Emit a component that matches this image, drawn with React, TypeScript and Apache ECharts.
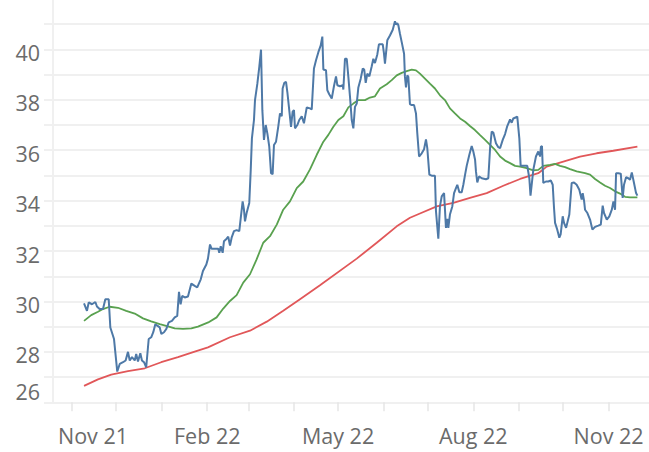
import React, { useEffect, useRef } from "react";
import * as echarts from "echarts";

// Dates are stored as day offsets from BASE_DATE (Nov 1, 2021)
const BASE_DATE = "2021-11-01";

const priceDays = [
  8.2, 10.2, 11.4, 13.6, 15.9, 17.0, 18.8, 21.1, 22.7, 25.0,
  26.1, 28.6, 30.8, 32.5, 34.7, 36.5, 38.1, 39.3, 40.8, 42.7,
  43.7, 44.9, 46.5, 47.6, 49.0, 50.5, 52.2, 53.9, 55.3, 56.7,
  58.0, 59.7, 60.8, 62.6, 64.2, 65.8, 68.0, 69.9, 71.6, 72.8,
  73.9, 75.0, 76.7, 78.9, 81.2, 83.5, 85.2, 87.6, 89.1, 91.4,
  92.5, 93.9, 95.0, 97.3, 99.5, 100.2, 101.2, 102.5, 103.4, 105.2,
  106.3, 107.5, 108.6, 110.2, 112.0, 113.8, 114.8, 116.1, 117.0, 117.7,
  118.8, 120.6, 121.6, 122.4, 123.8, 124.5, 126.1, 127.4, 128.6, 129.5,
  130.6, 131.8, 132.9, 134.2, 135.4, 136.5, 137.4, 138.8, 140.3, 141.5,
  142.7, 143.3, 144.4, 145.6, 146.5, 147.8, 149.0, 150.1, 151.0, 151.7,
  153.3, 154.6, 156.3, 157.8, 159.7, 161.9, 163.1, 164.6, 166.0, 167.6,
  169.2, 170.3, 171.0, 172.8, 173.7, 175.0, 176.7, 178.2, 179.6, 180.5,
  182.3, 184.2, 184.6, 185.7, 186.9, 188.0, 189.1, 190.3, 191.4, 192.5,
  193.7, 194.8, 196.4, 197.8, 198.8, 199.8, 200.9, 202.3, 203.9, 205.0,
  206.1, 207.7, 208.8, 211.4, 212.2, 212.9, 214.5, 216.3, 218.2, 219.7,
  220.4, 221.3, 222.0, 223.1, 224.3, 225.9, 226.5, 227.2, 228.1, 228.8,
  229.9, 231.1, 232.7, 234.0, 234.9, 236.1, 237.9, 239.5, 240.8, 241.7,
  243.1, 244.7, 246.9, 247.6, 249.2, 250.3, 251.5, 253.1, 254.4, 255.3,
  256.0, 257.1, 258.7, 259.9, 261.2, 262.1, 263.5, 265.1, 266.2, 267.4,
  268.5, 270.3, 271.9, 273.0, 274.2, 274.8, 275.7, 276.9, 278.7, 281.6,
  283.2, 284.4, 285.5, 286.6, 288.4, 290.0, 291.2, 293.0, 294.6, 296.1,
  298.0, 299.1, 300.2, 302.9, 304.3, 305.2, 307.5, 309.7, 311.1, 311.9,
  313.8, 315.6, 317.2, 318.4, 319.0, 319.7, 320.6, 322.4, 324.0, 325.7,
  327.0, 327.9, 328.6, 330.1, 331.5, 332.4, 333.8, 334.7, 336.1, 338.3,
  339.9, 341.5, 343.3, 345.1, 346.7, 347.4, 348.3, 349.0, 350.6, 352.4,
  354.0, 355.8, 358.0, 359.7, 361.0, 361.9, 363.8, 365.5, 367.2, 368.3,
  369.4, 370.1, 371.6, 373.3, 374.6, 375.5, 376.9, 378.4, 379.6, 380.8,
  382.3, 383.7, 384.6,
];

const priceValues = [
  29.92, 29.63, 29.96, 29.89, 29.98, 29.80, 29.70, 29.70, 30.09, 30.09,
  28.97, 28.51, 27.22, 27.52, 27.59, 27.66, 28.00, 27.66, 27.79, 27.66,
  27.92, 27.62, 27.95, 27.66, 27.59, 27.39, 28.51, 28.58, 28.78, 29.10,
  29.04, 28.97, 28.71, 28.78, 28.91, 29.17, 29.23, 29.37, 29.43, 30.38,
  29.89, 30.22, 30.16, 30.20, 30.71, 30.62, 30.56, 30.88, 31.21, 31.47,
  31.70, 32.26, 32.09, 32.09, 32.09, 31.93, 32.19, 31.93, 32.39, 32.49,
  32.57, 32.22, 32.53, 32.79, 32.83, 32.79, 33.31, 33.97, 33.64, 33.18,
  33.51, 33.91, 35.22, 36.47, 37.20, 37.99, 38.64, 39.30, 39.99, 37.59,
  36.41, 37.00, 36.67, 36.14, 35.09, 35.05, 36.21, 36.34, 36.93, 37.46,
  37.35, 38.45, 38.67, 38.71, 38.31, 37.59, 36.93, 37.53, 37.59, 36.87,
  37.00, 37.20, 37.35, 37.07, 37.70, 37.66, 37.62, 39.24, 39.57, 39.89,
  40.16, 40.51, 39.20, 39.17, 38.38, 38.22, 38.05, 38.54, 38.93, 38.58,
  38.54, 38.58, 38.41, 39.63, 39.63, 38.91, 38.14, 37.20, 36.87, 37.72,
  37.85, 38.49, 38.84, 39.24, 39.20, 38.67, 39.04, 38.93, 39.33, 39.63,
  39.46, 39.80, 40.20, 40.20, 39.85, 39.44, 40.36, 40.55, 40.78, 41.12,
  40.99, 41.04, 40.96, 40.62, 40.29, 39.83, 38.91, 38.49, 38.97, 38.91,
  37.83, 37.79, 37.79, 37.46, 36.67, 35.75, 35.88, 36.04, 36.43, 36.08,
  35.03, 34.99, 34.99, 33.58, 32.49, 33.77, 34.17, 34.30, 32.92, 33.28,
  32.92, 33.45, 33.77, 34.30, 34.50, 34.63, 34.33, 34.33, 34.63, 35.03,
  35.38, 35.82, 36.17, 35.95, 35.62, 35.16, 34.72, 34.96, 34.89, 34.85,
  34.89, 36.08, 36.74, 36.70, 36.28, 36.12, 36.08, 36.41, 36.64, 36.96,
  37.22, 37.09, 37.26, 37.33, 36.47, 35.38, 35.38, 35.38, 34.89, 34.20,
  35.22, 35.75, 35.95, 35.75, 36.14, 36.17, 34.70, 34.76, 34.76, 34.80,
  34.63, 33.71, 33.12, 32.85, 32.53, 32.66, 33.38, 33.12, 32.92, 33.45,
  34.70, 34.72, 34.63, 34.43, 34.04, 34.30, 34.01, 33.64, 33.51, 33.25,
  32.85, 32.96, 33.01, 33.05, 33.80, 33.51, 33.25, 33.38, 33.64, 33.97,
  33.64, 35.09, 35.09, 35.07, 34.11, 34.63, 34.93, 34.89, 34.83, 35.12,
  34.70, 34.30, 34.20,
];

const ma50Days = [
  8.2, 13.1, 17.7, 21.1, 25.6, 31.3, 36.9, 42.7, 48.3, 53.9,
  59.7, 65.3, 69.9, 75.5, 81.2, 85.7, 92.7, 98.4, 102.9, 107.5,
  112.0, 116.5, 121.1, 125.6, 130.1, 134.7, 139.3, 143.7, 148.3, 152.9,
  157.3, 161.9, 166.5, 171.0, 174.4, 177.8, 181.2, 184.6, 188.0, 191.4,
  194.8, 199.3, 202.7, 206.1, 209.5, 214.1, 217.5, 220.9, 224.3, 227.7,
  231.1, 234.0, 236.7, 240.1, 243.5, 246.9, 250.3, 253.7, 257.1, 260.5,
  264.0, 267.4, 270.7, 274.1, 277.6, 281.0, 284.4, 287.8, 291.2, 294.6,
  298.0, 301.4, 304.8, 309.3, 313.8, 317.2, 320.6, 325.2, 328.6, 332.0,
  335.4, 338.8, 343.3, 349.0, 352.4, 355.8, 359.2, 362.6, 366.0, 369.4,
  372.8, 376.2, 379.6, 384.6,
];

const ma50Values = [
  29.23, 29.46, 29.59, 29.70, 29.79, 29.75, 29.63, 29.52, 29.33, 29.21,
  29.10, 29.01, 28.93, 28.91, 28.93, 29.00, 29.17, 29.37, 29.72, 30.02,
  30.25, 30.75, 31.08, 31.67, 32.33, 32.59, 33.05, 33.64, 33.97, 34.50,
  34.76, 35.24, 35.82, 36.34, 36.61, 36.93, 37.20, 37.35, 37.70, 37.85,
  37.99, 37.99, 38.09, 38.14, 38.45, 38.62, 38.78, 38.97, 39.07, 39.14,
  39.20, 39.17, 39.04, 38.84, 38.64, 38.45, 38.18, 37.99, 37.66, 37.46,
  37.26, 37.13, 36.96, 36.80, 36.60, 36.41, 36.21, 36.01, 35.75, 35.59,
  35.49, 35.38, 35.35, 35.29, 35.20, 35.22, 35.38, 35.42, 35.46, 35.38,
  35.33, 35.25, 35.16, 35.09, 35.03, 34.86, 34.72, 34.59, 34.50, 34.37,
  34.28, 34.15, 34.13, 34.13,
];

const ma200Days = [
  8.2, 17.7, 26.7, 38.1, 49.5, 60.7, 72.1, 83.5, 92.5, 107.5,
  121.1, 132.5, 143.7, 155.1, 168.7, 193.7, 207.3, 220.9, 229.9, 236.7,
  248.1, 259.4, 270.7, 282.1, 293.4, 304.8, 317.2, 322.9, 334.2, 345.6,
  356.9, 368.2, 384.6,
];

const ma200Values = [
  26.65, 26.91, 27.10, 27.24, 27.35, 27.59, 27.79, 28.01, 28.18, 28.58,
  28.84, 29.20, 29.63, 30.09, 30.64, 31.70, 32.33, 32.98, 33.32, 33.49,
  33.77, 33.91, 34.11, 34.30, 34.59, 34.86, 35.09, 35.35, 35.55, 35.75,
  35.88, 35.98, 36.14,
];

const monthTicks = [
  "2021-11-01", "2021-12-01", "2022-01-01", "2022-02-01", "2022-03-01",
  "2022-04-01", "2022-05-01", "2022-06-01", "2022-07-01", "2022-08-01",
  "2022-09-01", "2022-10-01", "2022-11-01",
];
const labelMonths = ["2021-11-01", "2022-02-01", "2022-05-01", "2022-08-01", "2022-11-01"];
const monthNames = ["Jan", "Feb", "Mar", "Apr", "May", "Jun", "Jul", "Aug", "Sep", "Oct", "Nov", "Dec"];
const yLabelValues = [26, 28, 30, 32, 34, 36, 38, 40];
const xRangeDays = [-12.9, 392.5];
const yRange = [26, 42];

const DAY_MS = 86400000;
const parseDate = (s: string) => Date.parse(s + "T00:00:00Z");
const baseMs = parseDate(BASE_DATE);
const toTime = (d: number) => baseMs + d * DAY_MS;
const pairs = (days: number[], vals: number[]) => days.map((d, i) => [toTime(d), vals[i]]);

const FONT = "Open Sans";
const LABEL_COLOR = "#6b6b6b";
const GRID_COLOR = "#f0f0f0";

export default function App() {
  const ref = useRef<HTMLDivElement>(null);

  useEffect(() => {
    if (!ref.current) return;
    const chart = echarts.init(ref.current, undefined, { renderer: "svg" });
    const firstLabel = parseDate(labelMonths[0]);
    const option: any = {
      animation: false,
      backgroundColor: "#ffffff",
      grid: { left: 53, right: 0, top: -1, bottom: 49.7, containLabel: false, outerBoundsMode: "none" },
      xAxis: {
        type: "value",
        min: toTime(xRangeDays[0]),
        max: toTime(xRangeDays[1]),
        splitLine: { show: false },
        axisLine: { show: true, lineStyle: { color: GRID_COLOR, width: 2 } },
        axisTick: {
          show: true,
          length: 9,
          customValues: monthTicks.map(parseDate),
          lineStyle: { color: "#e6e6e6", width: 1.5 },
        },
        axisLabel: {
          customValues: labelMonths.map(parseDate),
          margin: 22,
          color: LABEL_COLOR,
          fontFamily: FONT,
          fontSize: 21.5,
          formatter: (v: number) => {
            const dt = new Date(v);
            const txt = monthNames[dt.getUTCMonth()] + " " + String(dt.getUTCFullYear()).slice(2);
            return Math.abs(v - firstLabel) < DAY_MS ? "{first|" + txt + "}" : txt;
          },
          rich: {
            first: { fontFamily: FONT, fontSize: 21.5, color: LABEL_COLOR, padding: [0, 0, 0, 42] },
          },
        },
      },
      yAxis: {
        type: "value",
        min: yRange[0],
        max: yRange[1],
        interval: 1,
        splitLine: { show: true, lineStyle: { color: GRID_COLOR, width: 2 } },
        axisLine: { show: true, lineStyle: { color: GRID_COLOR, width: 2 } },
        axisTick: { show: true, length: 9, lineStyle: { color: GRID_COLOR, width: 2 } },
        axisLabel: {
          margin: 13,
          color: LABEL_COLOR,
          fontFamily: FONT,
          fontSize: 21.5,
          padding: [6, 0, 0, 0],
          formatter: (v: number) => {
            if (!yLabelValues.includes(v)) return "";
            return v === yLabelValues[0] ? "{low|" + v + "}" : String(v);
          },
          rich: {
            low: { fontFamily: FONT, fontSize: 21.5, color: LABEL_COLOR, padding: [0, 0, 28, 0] },
          },
        },
      },
      series: [
        {
          type: "line",
          name: "200-day",
          data: pairs(ma200Days, ma200Values),
          showSymbol: false,
          lineStyle: { color: "#e15759", width: 1.8 },
          z: 2,
        },
        {
          type: "line",
          name: "50-day",
          data: pairs(ma50Days, ma50Values),
          showSymbol: false,
          lineStyle: { color: "#59a14f", width: 1.8 },
          z: 3,
        },
        {
          type: "line",
          name: "Price",
          data: pairs(priceDays, priceValues),
          showSymbol: false,
          lineStyle: { color: "#4e79a7", width: 2 },
          z: 4,
        },
      ],
    };
    chart.setOption(option);
    return () => chart.dispose();
  }, []);

  return (
    <div
      ref={ref}
      style={{ position: "fixed", left: 0, top: 0, width: 649, height: 452, background: "#fff" }}
    />
  );
}
